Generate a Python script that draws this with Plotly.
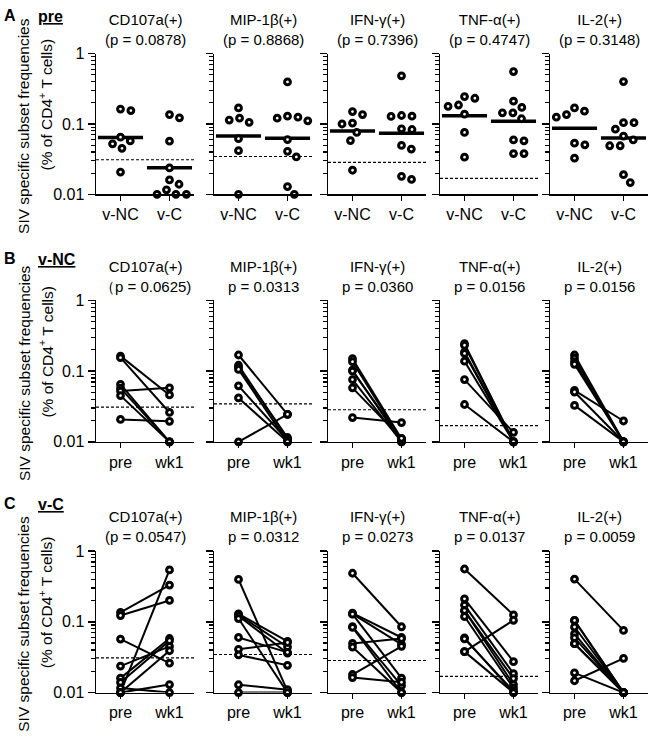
import numpy as np
import plotly.graph_objects as go

# ---------------- data ----------------
cytokines = ["CD107a(+)", "MIP-1β(+)", "IFN-γ(+)", "TNF-α(+)", "IL-2(+)"]
p_pre = ["(p = 0.0878)", "(p = 0.8868)", "(p = 0.7396)", "(p = 0.4747)", "(p = 0.3148)"]
p_vnc = ["（p = 0.0625)", "p = 0.0313", "p = 0.0360", "p = 0.0156", "p = 0.0156"]
p_vc = ["(p = 0.0547)", "p = 0.0312", "p = 0.0273", "p = 0.0137", "p = 0.0059"]
detection_limit = [0.031, 0.0345, 0.0284, 0.0169, None]
groups = ["v-NC", "v-C"]
timepoints = ["pre", "wk1"]
y_ticks = [0.01, 0.1, 1]
y_tick_labels = ["0.01", "0.1", "1"]
y_minor = [0.02, 0.03, 0.04, 0.05, 0.06, 0.07, 0.08, 0.09,
           0.2, 0.3, 0.4, 0.5, 0.6, 0.7, 0.8, 0.9]
panel_letters = ["A", "B", "C"]
panel_names = ["pre", "v-NC", "v-C"]

cd107a_vnc_pre = [0.163, 0.155, 0.065, 0.0574, 0.0522, 0.045, 0.0207]
cd107a_vnc_wk1 = [0.046, 0.026, 0.010, 0.010, 0.058, 0.010, 0.0195]
cd107a_vc_pre = [0.136, 0.1225, 0.057, 0.0237, 0.016, 0.0139, 0.0116, 0.010, 0.010, 0.010]
cd107a_vc_wk1 = [0.33, 0.20, 0.026, 0.045, 0.058, 0.054, 0.010, 0.54, 0.013, 0.039]

mip_vnc_pre = [0.169, 0.121, 0.1137, 0.1055, 0.0619, 0.0417, 0.010]
mip_vnc_wk1 = [0.0245, 0.011, 0.0115, 0.010, 0.0105, 0.010, 0.0245]
mip_vc_pre = [0.396, 0.129, 0.125, 0.121, 0.111, 0.060, 0.0408, 0.034, 0.0129, 0.010]
mip_vc_wk1 = [0.0105, 0.053, 0.044, 0.036, 0.010, 0.037, 0.051, 0.0243, 0.011, 0.010]

ifn_vnc_pre = [0.150, 0.136, 0.103, 0.100, 0.0758, 0.058, 0.022]
ifn_vnc_wk1 = [0.011, 0.0105, 0.010, 0.0108, 0.010, 0.0112, 0.0187]
ifn_vc_pre = [0.484, 0.132, 0.129, 0.128, 0.0853, 0.0834, 0.0495, 0.044, 0.018, 0.0163]
ifn_vc_wk1 = [0.085, 0.060, 0.048, 0.016, 0.0125, 0.010, 0.058, 0.010, 0.045, 0.014]

tnf_vnc_pre = [0.245, 0.232, 0.186, 0.178, 0.138, 0.0758, 0.0337]
tnf_vnc_wk1 = [0.010, 0.010, 0.010, 0.010, 0.010, 0.0136, 0.010]
tnf_vc_pre = [0.556, 0.211, 0.172, 0.144, 0.144, 0.1186, 0.0593, 0.0574, 0.0379, 0.0379]
tnf_vc_wk1 = [0.125, 0.0273, 0.0185, 0.0158, 0.013, 0.0116, 0.010, 0.0105, 0.105, 0.010]

il2_vnc_pre = [0.169, 0.152, 0.136, 0.125, 0.0533, 0.0506, 0.0327]
il2_vnc_wk1 = [0.010, 0.010, 0.010, 0.010, 0.0197, 0.010, 0.010]
il2_vc_pre = [0.40, 0.1044, 0.1044, 0.0843, 0.0674, 0.0593, 0.049, 0.049, 0.019, 0.0147]
il2_vc_wk1 = [0.0755, 0.010, 0.010, 0.010, 0.010, 0.010, 0.010, 0.010, 0.010, 0.0304]

vnc_pre = [cd107a_vnc_pre, mip_vnc_pre, ifn_vnc_pre, tnf_vnc_pre, il2_vnc_pre]
vnc_wk1 = [cd107a_vnc_wk1, mip_vnc_wk1, ifn_vnc_wk1, tnf_vnc_wk1, il2_vnc_wk1]
vc_pre = [cd107a_vc_pre, mip_vc_pre, ifn_vc_pre, tnf_vc_pre, il2_vc_pre]
vc_wk1 = [cd107a_vc_wk1, mip_vc_wk1, ifn_vc_wk1, tnf_vc_wk1, il2_vc_wk1]

# ---------------- layout geometry (pixels) ----------------
W, H = 650, 740
col_left = [96, 214, 328, 440, 550]
col_w = 98
row_top = [46.7, 299.3, 555.7]
row_bot = [190.7, 444.0, 700.7]
FONT = "Arial"


def px_x(p):
    return p / W


def px_y(p):
    return 1 - p / H


def swarm_offsets(vals, d=10.5, px_per_dec=72.0, unit_px=49.0):
    ys = np.log10(np.asarray(vals, dtype=float)) * px_per_dec
    order = np.argsort(-np.asarray(vals, dtype=float), kind="stable")
    placed = []
    out = np.zeros(len(vals))
    for i in order:
        cands = [0.0]
        for (x, y) in placed:
            dy = ys[i] - y
            if abs(dy) < d:
                h = np.sqrt(d * d - dy * dy)
                cands += [x - h, x + h]
        cands = sorted(cands, key=lambda c: (round(abs(c), 6), -c))
        chosen = cands[-1]
        for c in cands:
            if all((c - x) ** 2 + (ys[i] - y) ** 2 >= d * d - 1e-6 for x, y in placed):
                chosen = c
                break
        placed.append((chosen, ys[i]))
        out[i] = chosen
    return out / unit_px


def geomean(v):
    return float(10 ** np.mean(np.log10(v)))


MARKER = dict(symbol="circle", size=5.8, color="white",
              line=dict(color="black", width=3.0))

fig = go.Figure()
layout = dict(
    width=W, height=H, margin=dict(l=0, r=0, t=0, b=0),
    paper_bgcolor="white", plot_bgcolor="white",
    showlegend=False, font=dict(family=FONT, color="black", size=16),
)
annotations = []

for r in range(3):
    for c in range(5):
        idx = r * 5 + c + 1
        xa = "x" if idx == 1 else f"x{idx}"
        ya = "y" if idx == 1 else f"y{idx}"
        xkey = "xaxis" if idx == 1 else f"xaxis{idx}"
        ykey = "yaxis" if idx == 1 else f"yaxis{idx}"
        layout[xkey] = dict(
            domain=[px_x(col_left[c]), px_x(col_left[c] + col_w)],
            anchor=ya, range=[-0.5, 1.5], tickmode="array", tickvals=[0, 1],
            ticktext=groups if r == 0 else timepoints,
            ticks="outside", ticklen=5, tickwidth=1.5, tickcolor="black",
            showline=True, linewidth=1.5, linecolor="black",
            showgrid=False, zeroline=False, fixedrange=True,
            tickfont=dict(size=16, family=FONT, color="black"),
        )
        layout[ykey] = dict(
            domain=[px_y(row_bot[r]), px_y(row_top[r])],
            anchor=xa, type="log", range=[-2, 0], tickmode="array",
            tickvals=y_ticks, ticktext=y_tick_labels,
            showticklabels=(c == 0),
            ticks="outside", ticklen=7, tickwidth=1.5, tickcolor="black",
            minor=dict(tickmode="array", tickvals=y_minor, ticks="outside",
                       ticklen=4, tickwidth=1.2, tickcolor="black", showgrid=False),
            showline=True, linewidth=1.5, linecolor="black",
            showgrid=False, zeroline=False, fixedrange=True,
            tickfont=dict(size=16, family=FONT, color="black"),
        )

        # detection limit
        if detection_limit[c] is not None:
            fig.add_trace(go.Scatter(
                x=[-0.5, 1.5], y=[detection_limit[c]] * 2, mode="lines",
                line=dict(color="black", width=1.2, dash="3px,2px"),
                xaxis=xa, yaxis=ya, hoverinfo="skip"))

        if r == 0:
            for g, vals in enumerate([vnc_pre[c], vc_pre[c]]):
                gm = geomean(vals)
                fig.add_trace(go.Scatter(
                    x=[g - 0.46, g + 0.46], y=[gm, gm], mode="lines",
                    line=dict(color="black", width=3.5),
                    xaxis=xa, yaxis=ya, hoverinfo="skip"))
                offs = swarm_offsets(vals)
                fig.add_trace(go.Scatter(
                    x=list(g + offs), y=vals, mode="markers", cliponaxis=False,
                    marker=MARKER, xaxis=xa, yaxis=ya))
            title = cytokines[c] + "<br>" + p_pre[c]
        else:
            pre = vnc_pre[c] if r == 1 else vc_pre[c]
            wk1 = vnc_wk1[c] if r == 1 else vc_wk1[c]
            lx, ly = [], []
            for a, b in zip(pre, wk1):
                lx += [0, 1, None]
                ly += [a, b, None]
            fig.add_trace(go.Scatter(
                x=lx, y=ly, mode="lines", line=dict(color="black", width=2.0),
                cliponaxis=False, xaxis=xa, yaxis=ya, hoverinfo="skip"))
            fig.add_trace(go.Scatter(
                x=[0] * len(pre) + [1] * len(wk1), y=list(pre) + list(wk1),
                mode="markers", cliponaxis=False, marker=MARKER,
                xaxis=xa, yaxis=ya))
            title = cytokines[c] + "<br>" + (p_vnc[c] if r == 1 else p_vc[c])

        title_y = [21.5, 275, 531][r]
        annotations.append(dict(
            x=px_x(col_left[c] + col_w / 2), y=px_y(title_y), xref="paper", yref="paper",
            text=title, showarrow=False, xanchor="center", yanchor="middle",
            font=dict(size=15, family=FONT, color="black")))

# panel letters and names
letter_y = [8, 256, 507]
for r in range(3):
    annotations.append(dict(
        x=px_x(2), y=px_y(letter_y[r]), xref="paper", yref="paper",
        text=f"<b>{panel_letters[r]}</b>", showarrow=False, xanchor="left",
        yanchor="middle", font=dict(size=16, family=FONT, color="black")))
    annotations.append(dict(
        x=px_x(36), y=px_y(letter_y[r] + 1), xref="paper", yref="paper",
        text=f"<b><u>{panel_names[r]}</u></b>", showarrow=False, xanchor="left",
        yanchor="middle", font=dict(size=16, family=FONT, color="black")))

# y-axis titles
for r in range(3):
    mid = (row_top[r] + row_bot[r]) / 2
    annotations.append(dict(
        x=px_x(24), y=px_y(mid + 2), xref="paper", yref="paper",
        text="SIV specific subset frequencies", showarrow=False, textangle=-90,
        xanchor="center", yanchor="middle",
        font=dict(size=15.5, family=FONT, color="black")))
    annotations.append(dict(
        x=px_x(46), y=px_y(mid - 20), xref="paper", yref="paper",
        text="(% of CD4<sup>+</sup> T cells)", showarrow=False, textangle=-90,
        xanchor="center", yanchor="middle",
        font=dict(size=15.5, family=FONT, color="black")))

layout["annotations"] = annotations
fig.update_layout(**layout)
fig.write_html(
    "out.html",
    config={"displayModeBar": False, "staticPlot": True},
    post_script="document.body.style.margin='0';document.body.style.overflow='hidden';",
)
